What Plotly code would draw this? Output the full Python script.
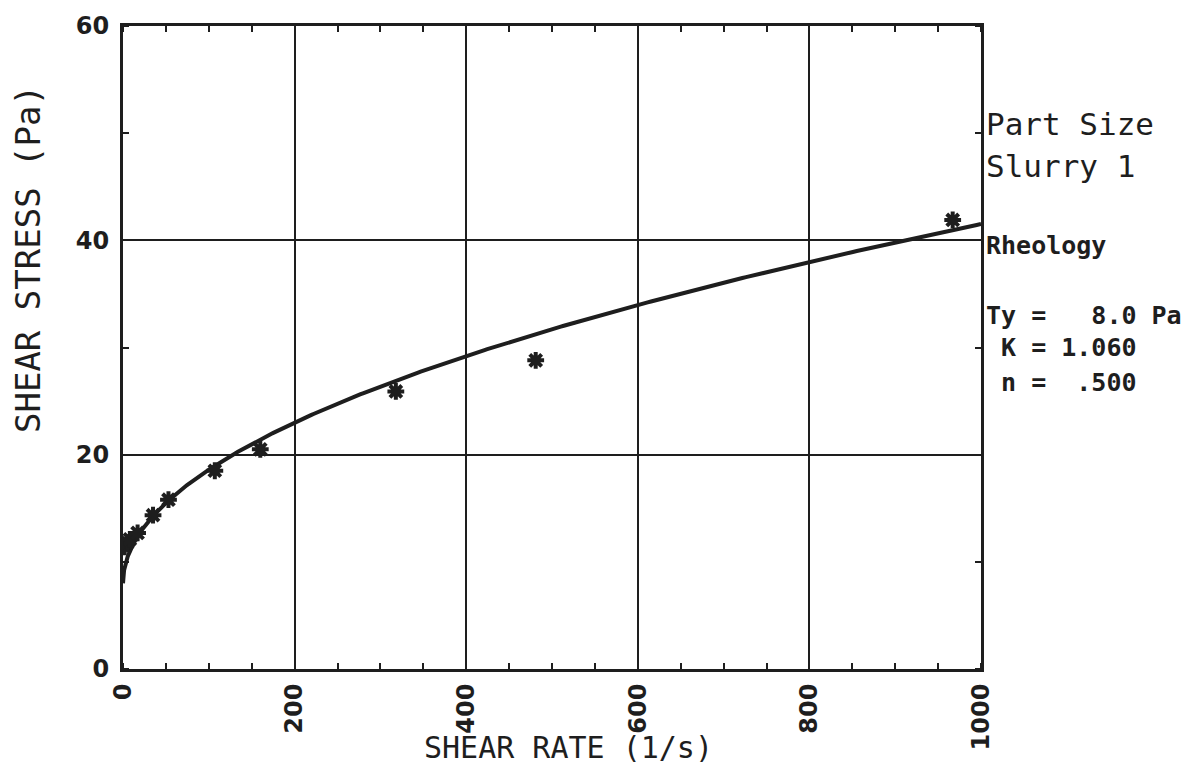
import numpy as np
import plotly.graph_objects as go

# Measured points: shear rate (1/s) vs shear stress (Pa)
shear_rate = [2, 5, 8, 17, 35, 53, 107, 160, 318, 481, 967]
shear_stress = [11.4, 11.8, 12.1, 12.7, 14.35, 15.8, 18.5, 20.5, 25.9, 28.8, 41.9]

# Herschel-Bulkley parameters printed beside the plot
TY = 8.0
K = 1.060
N = 0.500

x_ticks = [0, 200, 400, 600, 800, 1000]
y_ticks = [0, 20, 40, 60]

INK = "#1e1e1e"

# Fitted model curve, sampled densely near zero where it rises steeply
g = np.linspace(0, 1, 400) ** 2 * 1000
tau = TY + K * g ** N

fig = go.Figure()
fig.add_trace(go.Scatter(
    x=g, y=tau, mode="lines",
    line=dict(color=INK, width=4), hoverinfo="skip", showlegend=False,
))
fig.add_trace(go.Scatter(
    x=shear_rate, y=shear_stress, mode="markers",
    marker=dict(symbol="asterisk-open", size=14, color=INK,
                line=dict(color=INK, width=4)),
    showlegend=False,
))

axis_common = dict(
    showline=True, linecolor=INK, linewidth=3, mirror="ticks",
    showgrid=True, gridcolor=INK, gridwidth=1.5,
    zeroline=False, ticks="",
    tickfont=dict(family="DejaVu Sans", size=24, color=INK, weight="bold"),
)

fig.update_xaxes(
    range=[0, 1000], tickvals=x_ticks, ticktext=[str(v) for v in x_ticks],
    tickangle=-90, ticklabelstandoff=2,
    minor=dict(dtick=50, ticks="inside", ticklen=6, tickwidth=2, tickcolor=INK, showgrid=False),
    **axis_common,
)
fig.update_yaxes(
    range=[0, 60], tickvals=y_ticks, ticktext=[str(v) for v in y_ticks],
    ticklabelstandoff=6,
    minor=dict(dtick=10, ticks="inside", ticklen=6, tickwidth=2, tickcolor=INK, showgrid=False),
    **axis_common,
)

notes_font = dict(family="DejaVu Sans Mono", size=25, color=INK, weight="bold")
header_font = dict(family="DejaVu Sans Mono", size=31, color=INK)

annotations = [
    dict(text="SHEAR RATE (1/s)", x=0.519, y=-0.152,
         font=dict(family="DejaVu Sans Mono", size=30, color=INK),
         xanchor="center", yanchor="bottom"),
    dict(text="SHEAR STRESS (Pa)", x=-0.110, y=0.637,
         font=dict(family="DejaVu Sans Mono", size=34, color=INK),
         textangle=-90, xanchor="center", yanchor="middle"),
    dict(text="Part Size", x=1.004, y=(669 - 121) / 647, font=header_font,
         xanchor="left", yanchor="middle"),
    dict(text="Slurry 1", x=1.004, y=(669 - 163) / 647, font=header_font,
         xanchor="left", yanchor="middle"),
    dict(text="Rheology", x=1.004, y=(669 - 243) / 647, font=notes_font,
         xanchor="left", yanchor="middle"),
    dict(text=f"Ty =   {TY:.1f} Pa", x=1.004, y=(669 - 313) / 647, font=notes_font,
         xanchor="left", yanchor="middle"),
    dict(text=f" K = {K:.3f}", x=1.004, y=(669 - 345) / 647, font=notes_font,
         xanchor="left", yanchor="middle"),
    dict(text=" n =  " + f"{N:.3f}".lstrip("0"), x=1.004, y=(669 - 381) / 647, font=notes_font,
         xanchor="left", yanchor="middle"),
]
for a in annotations:
    a.update(xref="paper", yref="paper", showarrow=False)

fig.update_layout(
    width=1192, height=770,
    margin=dict(l=123, r=211, t=22, b=101),
    paper_bgcolor="white", plot_bgcolor="white",
    annotations=annotations,
)

fig.write_html("out.html")
